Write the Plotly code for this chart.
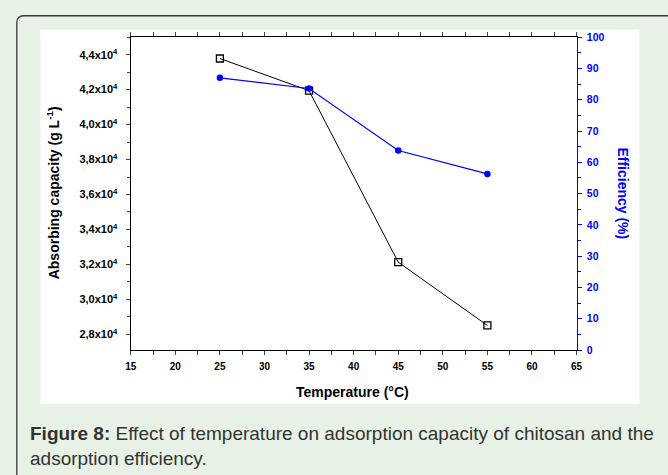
import plotly.graph_objects as go

# Data
temperature = [25, 35, 45, 55]
capacity = [4.378, 4.194, 3.213, 2.851]      # left axis (x10^4)
efficiency = [87.0, 83.6, 63.8, 56.3]        # right axis (%)

cap_tickvals = [2.8, 3.0, 3.2, 3.4, 3.6, 3.8, 4.0, 4.2, 4.4]
cap_ticktext = ["2,8x10<sup>4</sup>", "3,0x10<sup>4</sup>", "3,2x10<sup>4</sup>",
                "3,4x10<sup>4</sup>", "3,6x10<sup>4</sup>", "3,8x10<sup>4</sup>",
                "4,0x10<sup>4</sup>", "4,2x10<sup>4</sup>", "4,4x10<sup>4</sup>"]
x_tickvals = [15, 20, 25, 30, 35, 40, 45, 50, 55, 60, 65]
eff_tickvals = [0, 10, 20, 30, 40, 50, 60, 70, 80, 90, 100]

W, H = 668, 475
def px(x):
    return x / W
def py(y):
    return 1 - y / H

FONT = "Liberation Sans, Arial, sans-serif"

fig = go.Figure()
fig.add_trace(go.Scatter(
    x=temperature, y=capacity, mode="lines+markers",
    line=dict(color="black", width=1),
    marker=dict(symbol="square-open", size=7, color="black", line=dict(width=1.3)),
    showlegend=False, yaxis="y"))
fig.add_trace(go.Scatter(
    x=temperature, y=efficiency, mode="lines+markers",
    line=dict(color="#0000ff", width=1.2),
    marker=dict(symbol="circle", size=6.5, color="#0000ff"),
    showlegend=False, yaxis="y2"))

fig.update_layout(
    width=W, height=H,
    margin=dict(l=0, r=0, t=0, b=0),
    paper_bgcolor="#e8f1e5",
    plot_bgcolor="white",
    xaxis=dict(
        domain=[px(127), px(581)], range=[15, 65],
        tickvals=x_tickvals, ticktext=[f"<b>{v}</b>" for v in x_tickvals],
        ticks="outside", ticklen=4, tickwidth=1.3, ticklabelstandoff=3,
        minor=dict(dtick=2.5, ticks="outside", ticklen=3, tickwidth=1.2, tick0=15),
        showline=True, linecolor="black", linewidth=1.3, mirror="allticks",
        showgrid=False, zeroline=False,
        tickfont=dict(family=FONT, size=10, color="black"),
    ),
    yaxis=dict(
        domain=[py(353), py(32)], range=[2.71, 4.50],
        tickvals=cap_tickvals, ticktext=[f"<b>{t}</b>" for t in cap_ticktext],
        ticks="outside", ticklen=4, tickwidth=1.3, ticklabelstandoff=6,
        minor=dict(dtick=0.1, tick0=2.8, ticks="outside", ticklen=3, tickwidth=1.2),
        showline=True, linecolor="black", linewidth=1.3,
        showgrid=False, zeroline=False,
        tickfont=dict(family=FONT, size=11, color="black"),
    ),
    yaxis2=dict(
        overlaying="y", side="right", anchor="x",
        range=[0, 100], tickvals=eff_tickvals,
        ticktext=[f"<b>{v}</b>" for v in eff_tickvals],
        ticks="outside", ticklen=4, tickwidth=1.3, tickcolor="#0000ff", ticklabelstandoff=3,
        minor=dict(dtick=5, ticks="outside", ticklen=3, tickwidth=1.2, tickcolor="#0000ff"),
        showline=True, linecolor="#0000ff", linewidth=1.3,
        showgrid=False, zeroline=False,
        tickfont=dict(family=FONT, size=10.5, color="#0000ff"),
    ),
    shapes=[
        dict(type="path", xref="paper", yref="paper",
             path=f"M {px(11)},{py(500)} L {px(11)},{py(17)} Q {px(11)},{py(10)} {px(18)},{py(10)} L {px(700)},{py(10)}",
             line=dict(color="#3a3a3a", width=1.3), layer="below"),
        dict(type="rect", xref="paper", yref="paper",
             x0=px(35), x1=px(645), y0=py(408), y1=py(24),
             fillcolor="white", line=dict(width=0), layer="below"),
    ],
    annotations=[
        dict(text="<b>Absorbing capacity (g L<sup>-1</sup>)</b>", xref="paper", yref="paper",
             x=px(48), y=py(192), xanchor="center", yanchor="middle",
             textangle=-90, showarrow=False,
             font=dict(family=FONT, size=14, color="black")),
        dict(text="<b>Temperature (°C)</b>", xref="paper", yref="paper",
             x=px(353), y=py(396), xanchor="center", yanchor="middle", showarrow=False,
             font=dict(family=FONT, size=14, color="black")),
        dict(text="<b>Efficiency (%)</b>", xref="paper", yref="paper",
             x=px(628), y=py(192), xanchor="center", yanchor="middle",
             textangle=90, showarrow=False,
             font=dict(family=FONT, size=14, color="#0000ff")),
        dict(text="<b>Figure 8:</b> Effect of temperature on adsorption capacity of chitosan and the<br>adsorption efficiency.",
             xref="paper", yref="paper", x=px(22), y=py(426), xanchor="left", yanchor="top",
             align="left", showarrow=False,
             font=dict(family=FONT, size=19, color="#333333")),
    ],
)

fig.write_html("out.html")
